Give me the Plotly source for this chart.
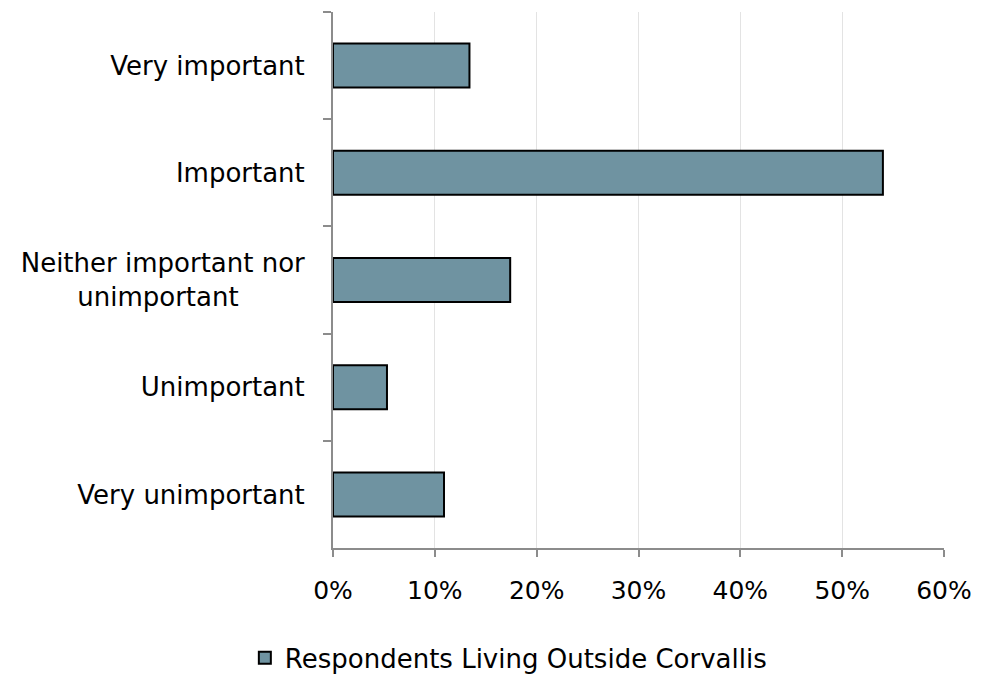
import plotly.graph_objects as go

categories = ["Very important", "Important", "Neither important nor<br>unimportant\u00a0\u00a0\u00a0\u00a0\u00a0\u00a0\u00a0\u00a0", "Unimportant", "Very unimportant"]
values = [13.4, 54.0, 17.4, 5.3, 10.9]
series_name = "Respondents Living Outside Corvallis"
x_ticks = [0, 10, 20, 30, 40, 50, 60]
x_tick_labels = ["0%", "10%", "20%", "30%", "40%", "50%", "60%"]

fig = go.Figure()
fig.add_trace(go.Bar(
    y=categories, x=values, orientation="h", name=series_name,
    marker=dict(color="#6f93a1", line=dict(color="black", width=2)),
    showlegend=True,
))

fig.update_layout(
    width=983, height=674,
    margin=dict(l=325, r=47, t=4, b=134, autoexpand=False),
    paper_bgcolor="white", plot_bgcolor="white",
    font=dict(family="DejaVu Sans, Arial, sans-serif", size=26, color="black"),
    bargap=0.59,
    showlegend=True,
    legend=dict(orientation="h", xref="container", x=0.509, xanchor="center",
                yref="container", y=0.036, yanchor="middle",
                font=dict(size=26), itemsizing="constant", itemwidth=30),
    xaxis=dict(range=[0, 60], tickvals=x_ticks, ticktext=x_tick_labels,
               showgrid=True, gridcolor="#e3e3e3", gridwidth=1,
               showline=True, linecolor="#8c8c8c", linewidth=2,
               ticks="outside", ticklen=7, tickcolor="#8c8c8c", tickwidth=2,
               tickfont=dict(size=25),
               zeroline=False, ticklabelstandoff=12, automargin=False),
    yaxis=dict(autorange="reversed", type="category",
               showline=True, linecolor="#8c8c8c", linewidth=2,
               ticks="outside", ticklen=8, tickcolor="#8c8c8c", tickwidth=2,
               tickson="boundaries", showgrid=False, ticklabelstandoff=21, automargin=False),
)

fig.write_html("out.html")
